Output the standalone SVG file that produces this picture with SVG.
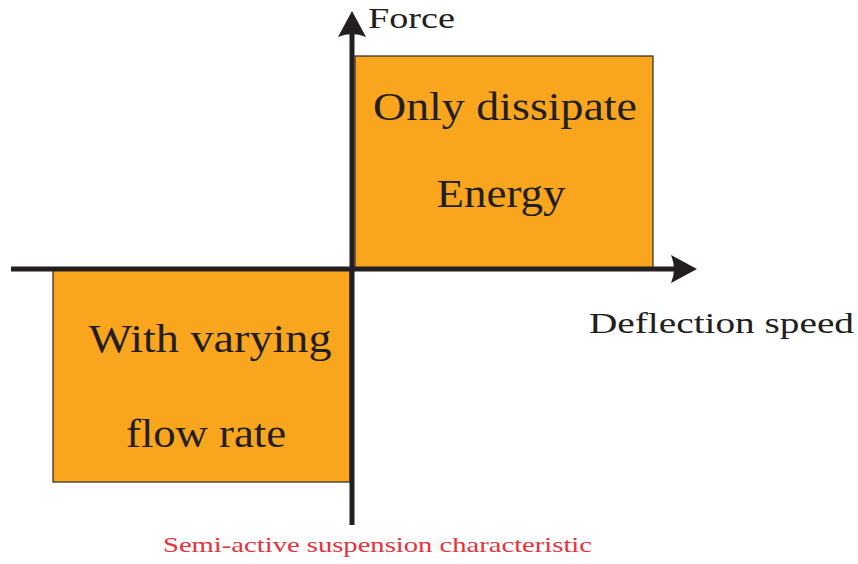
<svg xmlns="http://www.w3.org/2000/svg" width="858" height="564" viewBox="0 0 858 564">
<style>
.box{fill:#F9A51E;stroke:#2a2520;stroke-width:1.2}
.lbl{font-family:'Liberation Serif','Times New Roman','DejaVu Serif','Noto Serif',Times,serif;fill:#231f20}
.cap{font-family:'Liberation Serif','Times New Roman','DejaVu Serif','Noto Serif',Times,serif;fill:#E8303A}
.axis{stroke:#231f20;stroke-width:5;fill:none}
.head{fill:#231f20}
</style>
<rect width="858" height="564" fill="#fff"/>
<g id="quadrant-upper">
<rect class="box" x="355" y="56" width="298" height="212"/>
<text class="lbl" x="505" y="120" font-size="40" text-anchor="middle" textLength="264" lengthAdjust="spacingAndGlyphs">Only dissipate</text>
<text class="lbl" x="501" y="207" font-size="40" text-anchor="middle" textLength="129" lengthAdjust="spacingAndGlyphs">Energy</text>
</g>
<g id="quadrant-lower">
<rect class="box" x="53" y="270" width="297" height="212"/>
<text class="lbl" x="210" y="352" font-size="40" text-anchor="middle" textLength="243" lengthAdjust="spacingAndGlyphs">With varying</text>
<text class="lbl" x="206" y="447" font-size="40" text-anchor="middle" textLength="160" lengthAdjust="spacingAndGlyphs">flow rate</text>
</g>
<g id="connectors">
<line class="axis" x1="352" y1="525" x2="352" y2="30"/>
<path class="head" d="M352,11 L366,37 Q352,31 338,37 Z"/>
<line class="axis" x1="11" y1="269" x2="680" y2="269"/>
<path class="head" d="M697,269 L671,283 Q677,269 671,255 Z"/>
</g>
<g id="axis-labels">
<text class="lbl" x="368" y="28" font-size="30" textLength="87" lengthAdjust="spacingAndGlyphs">Force</text>
<text class="lbl" x="589" y="333" font-size="30" textLength="265" lengthAdjust="spacingAndGlyphs">Deflection speed</text>
</g>
<text class="cap" x="163" y="552" font-size="22" textLength="429" lengthAdjust="spacingAndGlyphs">Semi-active suspension characteristic</text>
</svg>
